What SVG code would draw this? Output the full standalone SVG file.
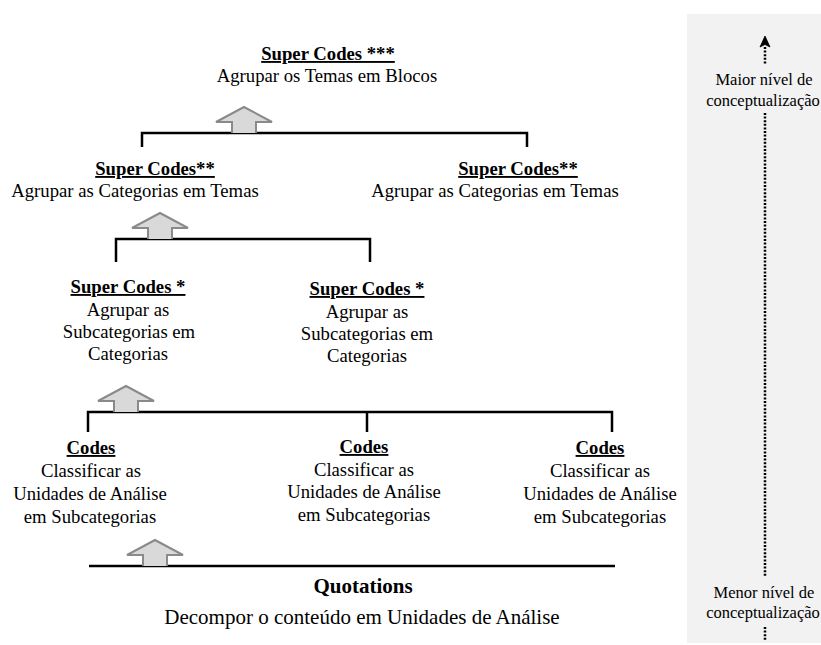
<svg xmlns="http://www.w3.org/2000/svg" width="821" height="645" viewBox="0 0 821 645">
  <style>
    text { font-family: "Liberation Serif", "Times New Roman", serif; font-size: 18.7px; fill: #000; text-anchor: middle; }
    .head { font-weight: bold; text-decoration: underline; }
    .big { font-size: 21px; }
    .side { font-size: 16.5px; }
    .bracket { fill: none; stroke: #000; stroke-width: 2.5; }
    .up { fill: #d9d9d9; stroke: #8a8a8a; stroke-width: 2; stroke-linejoin: miter; }
    .dots { fill: none; stroke: #000; stroke-width: 2.5; stroke-dasharray: 2 1.6; }
  </style>
  <defs>
    <!-- block arrow pointing up, base at y=0, centred on x=0 -->
    <path id="upArrow" d="M -12,0 V -11 H -28 L 0,-26 L 28,-11 H 12 V 0"/>
  </defs>

  <rect x="687" y="14" width="134" height="629" fill="#f2f2f2"/>

  <g id="connectors">
    <path class="bracket" d="M 142,147 V 133 H 527 V 147"/>
    <path class="bracket" d="M 116,262 V 239 H 370 V 262"/>
    <path class="bracket" d="M 88,432 V 412 H 612 V 432 M 367,412 V 432"/>
    <line class="bracket" x1="89" y1="566" x2="615" y2="566"/>
    <use href="#upArrow" class="up" x="244" y="133"/>
    <use href="#upArrow" class="up" x="160" y="239"/>
    <use href="#upArrow" class="up" x="126" y="412"/>
    <use href="#upArrow" class="up" x="155" y="566"/>
  </g>

  <g id="scale">
    <path d="M 765,36 L 770,47 L 765,44.5 L 760,47 Z" fill="#000" stroke="#000" stroke-width="0.8" stroke-linejoin="round"/>
    <line class="dots" x1="765" y1="47" x2="765" y2="65"/>
    <line class="dots" x1="765" y1="113" x2="765" y2="577"/>
    <line class="dots" x1="765" y1="627" x2="765" y2="641"/>
    <text class="side" x="764" y="85">Maior nível de</text>
    <text class="side" x="763" y="106">conceptualização</text>
    <text class="side" x="764" y="598">Menor nível de</text>
    <text class="side" x="763" y="618">conceptualização</text>
  </g>

  <g id="super-codes-3">
    <text class="head" x="328" y="60">Super Codes ***</text>
    <text x="327" y="82">Agrupar os Temas em Blocos</text>
  </g>

  <g id="super-codes-2a">
    <text class="head" x="155" y="175">Super Codes**</text>
    <text x="135" y="197">Agrupar as Categorias em Temas</text>
  </g>
  <g id="super-codes-2b">
    <text class="head" x="518" y="175">Super Codes**</text>
    <text x="495" y="197">Agrupar as Categorias em Temas</text>
  </g>

  <g id="super-codes-1a">
    <text class="head" x="128" y="293">Super Codes *</text>
    <text x="128" y="316">Agrupar as</text>
    <text x="129" y="338">Subcategorias em</text>
    <text x="128" y="360">Categorias</text>
  </g>
  <g id="super-codes-1b">
    <text class="head" x="367" y="295">Super Codes *</text>
    <text x="367" y="318">Agrupar as</text>
    <text x="367" y="340">Subcategorias em</text>
    <text x="367" y="362">Categorias</text>
  </g>

  <g id="codes-a">
    <text class="head" x="91" y="454">Codes</text>
    <text x="91" y="477">Classificar as</text>
    <text x="90" y="500">Unidades de Análise</text>
    <text x="90" y="523">em Subcategorias</text>
  </g>
  <g id="codes-b">
    <text class="head" x="364" y="453">Codes</text>
    <text x="364" y="476">Classificar as</text>
    <text x="364" y="498">Unidades de Análise</text>
    <text x="364" y="521">em Subcategorias</text>
  </g>
  <g id="codes-c">
    <text class="head" x="600" y="454">Codes</text>
    <text x="600" y="477">Classificar as</text>
    <text x="600" y="500">Unidades de Análise</text>
    <text x="600" y="523">em Subcategorias</text>
  </g>

  <g id="quotations">
    <text class="big" x="363" y="593" font-weight="bold">Quotations</text>
    <text class="big" x="362" y="624">Decompor o conteúdo em Unidades de Análise</text>
  </g>
</svg>
